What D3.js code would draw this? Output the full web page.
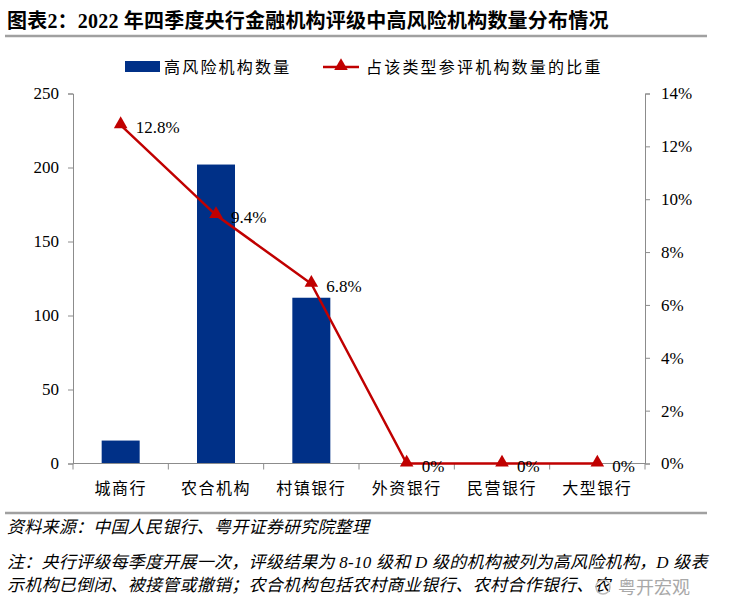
<!DOCTYPE html>
<html><head><meta charset="utf-8">
<script src="https://cdn.jsdelivr.net/npm/d3@7"></script>
<style>
body{margin:0;background:#fff;}
svg{display:block;}
</style></head>
<body>
<svg id="c" width="733" height="616"></svg>
<script>
const categories = ["城商行","农合机构","村镇银行","外资银行","民营银行","大型银行"];
const counts = [15.5, 202, 112, 0, 0, 0];
const shares = [12.8, 9.4, 6.8, 0, 0, 0];
const shareLabels = ["12.8%","9.4%","6.8%","0%","0%","0%"];
const leftTicks = [0,50,100,150,200,250];
const rightTicks = [0,2,4,6,8,10,12,14];

const svg = d3.select("#c");
const serif = "'Liberation Serif','Noto Sans CJK SC',serif";
const cjk = "'Liberation Serif','Noto Sans CJK SC',sans-serif";

// Title
svg.append("text").attr("x",7).attr("y",28).attr("font-family",cjk).attr("font-weight","bold")
  .attr("font-size",20).attr("letter-spacing",0.2).attr("fill","#000").text("图表2：2022 年四季度央行金融机构评级中高风险机构数量分布情况");
svg.append("line").attr("x1",5).attr("x2",707).attr("y1",36).attr("y2",36).attr("stroke","#a0a0a0").attr("stroke-width",2.5);

const m = {l:73, r:645, t:93.5, b:463.5};
const xb = d3.scaleBand().domain(categories).range([m.l,m.r]);
const yL = d3.scaleLinear().domain([0,250]).range([m.b,m.t]);
const yR = d3.scaleLinear().domain([0,14]).range([m.b,m.t]);

const blue = "#003087", red = "#C00000", axisC = "#8c8c8c";

// bars
svg.selectAll("rect.bar").data(categories).enter().append("rect")
  .attr("x",d=>xb(d)+xb.bandwidth()/2-19).attr("width",38)
  .attr("y",(d,i)=>yL(counts[i])).attr("height",(d,i)=>m.b-yL(counts[i]))
  .attr("fill",blue);

// left axis
const gl = svg.append("g").attr("transform",`translate(${m.l},0)`)
  .call(d3.axisLeft(yL).tickValues(leftTicks).tickSize(5).tickPadding(9));
gl.selectAll("path,line").attr("stroke",axisC);
gl.selectAll("text").attr("font-family",serif).attr("font-size",17).attr("fill","#000");

// right axis
const gr = svg.append("g").attr("transform",`translate(${m.r},0)`)
  .call(d3.axisRight(yR).tickValues(rightTicks).tickFormat(d=>d+"%").tickSize(5).tickPadding(11));
gr.selectAll("path,line").attr("stroke",axisC);
gr.selectAll("text").attr("font-family",serif).attr("font-size",17).attr("fill","#000");

// bottom axis
svg.append("line").attr("x1",m.l).attr("x2",m.r).attr("y1",m.b).attr("y2",m.b).attr("stroke",axisC);
const bounds = categories.map(d=>xb(d)).concat([m.r]);
svg.selectAll("line.xt").data(bounds).enter().append("line")
  .attr("x1",d=>d).attr("x2",d=>d).attr("y1",m.b).attr("y2",m.b+6).attr("stroke",axisC);
svg.selectAll("text.xl").data(categories).enter().append("text")
  .attr("x",d=>xb(d)+xb.bandwidth()/2).attr("y",m.b+30).attr("text-anchor","middle")
  .attr("font-family",cjk).attr("font-size",16).attr("letter-spacing",1.5).attr("fill","#000").text(d=>d);

// line
const cx = d=>xb(d)+xb.bandwidth()/2;
const line = d3.line().x((d,i)=>cx(categories[i])).y(d=>yR(d));
svg.append("path").datum(shares).attr("d",line).attr("fill","none").attr("stroke",red).attr("stroke-width",2.5);
const tri = d3.symbol().type(d3.symbolTriangle).size(80);
svg.selectAll("path.mk").data(shares).enter().append("path")
  .attr("d",tri).attr("transform",(d,i)=>`translate(${cx(categories[i])},${yR(d)-1})`).attr("fill",red);
svg.selectAll("text.dl").data(shareLabels).enter().append("text")
  .attr("x",(d,i)=>cx(categories[i])+15).attr("y",(d,i)=>yR(shares[i])+8)
  .attr("font-family",serif).attr("font-size",17).attr("fill","#000").text(d=>d);

// legend
svg.append("rect").attr("x",125).attr("y",61).attr("width",35).attr("height",11).attr("fill",blue);
svg.append("text").attr("x",164).attr("y",73).attr("font-family",cjk).attr("font-size",16).attr("letter-spacing",2.2)
  .attr("fill","#000").text("高风险机构数量");
svg.append("line").attr("x1",323).attr("x2",359).attr("y1",67).attr("y2",67).attr("stroke",red).attr("stroke-width",2.5);
svg.append("path").attr("d",tri).attr("transform","translate(341,66)").attr("fill",red);
svg.append("text").attr("x",366).attr("y",73).attr("font-family",cjk).attr("font-size",16).attr("letter-spacing",2.2)
  .attr("fill","#000").text("占该类型参评机构数量的比重");

// bottom rule and notes
svg.append("line").attr("x1",5).attr("x2",707).attr("y1",513).attr("y2",513).attr("stroke","#a0a0a0").attr("stroke-width",2.5);
const note = (t,y)=>svg.append("text").attr("x",7).attr("y",y).attr("font-family",cjk).attr("font-style","italic")
  .attr("font-size",17).attr("letter-spacing",0.25).attr("fill","#000").text(t);
note("资料来源：中国人民银行、粤开证券研究院整理",533);
note("注：央行评级每季度开展一次，评级结果为 8-10 级和 D 级的机构被列为高风险机构，D 级表",568);
note("示机构已倒闭、被接管或撤销；农合机构包括农村商业银行、农村合作银行、农",591);

// watermark
svg.append("circle").attr("cx",603).attr("cy",587).attr("r",7).attr("fill","none").attr("stroke","#bbb").attr("stroke-width",1.5);
svg.append("text").attr("x",618).attr("y",594).attr("font-family","'Noto Sans CJK SC',sans-serif")
  .attr("font-size",18).attr("fill","#9a9a9a").attr("opacity",0.85).text("粤开宏观");
</script>
</body></html>
